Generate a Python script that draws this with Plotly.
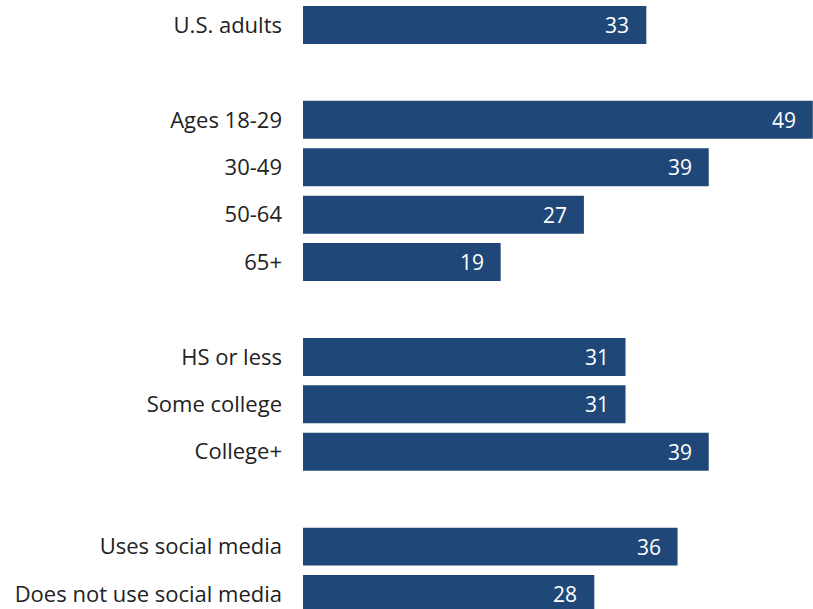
import plotly.graph_objects as go

# Share of each group, with blank slots separating the groups
categories = ["U.S. adults", "", "Ages 18-29", "30-49", "50-64", "65+", "",
              "HS or less", "Some college", "College+", "",
              "Uses social media", "Does not use social media"]
values = [33, None, 49, 39, 27, 19, None, 31, 31, 39, None, 36, 28]

positions = list(range(len(categories)))
bar_pos = [p for p, v in zip(positions, values) if v is not None]
bar_val = [v for v in values if v is not None]
bar_lab = [c for c, v in zip(categories, values) if v is not None]

BAR_COLOR = "#1f4878"
FONT = "Open Sans"

fig = go.Figure(go.Bar(
    x=bar_val, y=bar_pos, orientation="h", width=0.8,
    marker=dict(color=BAR_COLOR, line=dict(width=0)),
    hoverinfo="skip",
))

for p, v in zip(bar_pos, bar_val):
    fig.add_annotation(x=v, y=p, text=str(v), showarrow=False,
                       xanchor="right", yanchor="middle", xshift=-15,
                       font=dict(family=FONT, size=21, color="white"))

fig.update_layout(
    width=813, height=609,
    margin=dict(l=303, r=0, t=0, b=0),
    plot_bgcolor="white", paper_bgcolor="white",
    showlegend=False,
    font=dict(family=FONT, size=22, color="#222222"),
    xaxis=dict(range=[0, 49.02], visible=False, fixedrange=True),
    yaxis=dict(range=[12.316, -0.527], tickvals=bar_pos, ticktext=bar_lab,
               showgrid=False, zeroline=False, showline=False, ticks="",
               ticklabelstandoff=20, tickfont=dict(family=FONT, size=22, color="#222222")),
)

fig.write_html("out.html")
